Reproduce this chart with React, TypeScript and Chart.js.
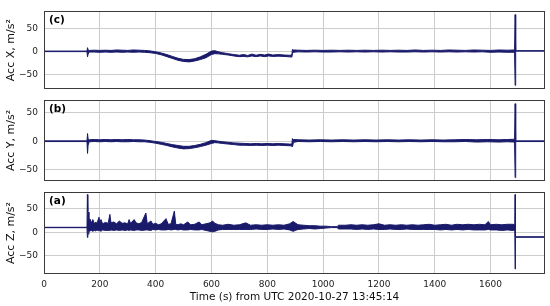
import React, { useEffect, useRef } from 'react';
import { Chart, registerables } from 'chart.js';

Chart.register(...registerables);

// ---- tick labels ----
const xTicks = [0, 200, 400, 600, 800, 1000, 1200, 1400, 1600];
const yTicks = [-50, 0, 50];
const xTitle = 'Time (s) from UTC 2020-10-27 13:45:14';

// ---- Acc X (panel c): time, upper and lower envelope of the trace ----
const tX = [0, 154, 156, 158, 162, 180, 200, 220, 240, 260, 280, 300, 320, 340, 360, 380, 400, 420, 440, 460, 480, 500, 520, 540, 560, 580, 600, 612, 625, 640, 660, 680, 700, 715, 730, 745, 760, 775, 790, 805, 820, 840, 860, 880, 888, 890, 894, 910, 940, 970, 1000, 1030, 1060, 1090, 1120, 1150, 1180, 1210, 1240, 1270, 1300, 1330, 1360, 1390, 1420, 1450, 1480, 1510, 1540, 1570, 1600, 1630, 1660, 1686, 1688, 1690, 1795];
const xHigh = [0.6, 0.6, 8, 3, 2, 2.5, 2, 2.5, 2, 3, 2.5, 2, 3, 2.5, 2, 1, -1, -3.5, -7, -11, -15, -17.5, -18, -16, -12, -6.5, 0.5, 1.5, -1, -3, -5, -7, -8.5, -7, -9, -6, -8.5, -6.5, -8, -6, -8, -7, -8, -8.5, -8, 4, 3, 2.5, 2, 2.5, 2, 2.5, 2, 2.5, 2, 2.5, 2, 2.5, 2, 2.5, 2, 3, 2, 2.5, 2, 3, 2.5, 2, 3, 2.5, 2, 3, 2.5, 3, 80, 1.5, 1.5];
const xLow = [-0.6, -0.6, -12, -6, -1.5, -1.5, -2, -1.5, -2, -1.5, -2, -1.5, -2, -1.5, -2, -3, -4.5, -7.5, -11.5, -15.5, -19.5, -22, -23, -21, -18, -14, -7, -5, -5.5, -6.5, -8, -10, -11.5, -11, -12, -10, -11.5, -10, -11.5, -10, -11, -10.5, -11, -12, -12.5, -5, -2, -1, -1.5, -1, -1.5, -1.5, -1, -1.5, -1, -1.5, -1, -1.5, -1, -1.5, -1.5, -1, -1.5, -1, -1.5, -1, -1.5, -1, -1.5, -1, -2, -1.5, -2, -2, -74, 0.5, 0.5];

// ---- Acc Y (panel b) ----
const tY = [0, 154, 156, 158, 162, 180, 200, 220, 240, 260, 280, 300, 320, 340, 360, 380, 400, 420, 440, 460, 480, 500, 520, 540, 560, 580, 600, 612, 625, 640, 660, 680, 700, 720, 740, 760, 780, 800, 820, 840, 860, 880, 888, 890, 894, 910, 950, 990, 1030, 1070, 1110, 1150, 1190, 1230, 1270, 1310, 1350, 1390, 1430, 1470, 1510, 1550, 1590, 1630, 1660, 1686, 1688, 1690, 1795];
const yHigh = [0.6, 0.6, 13.5, 4, 2.5, 3, 2.5, 3, 2.5, 3, 2.5, 3, 2.5, 2.5, 2, 1, -0.5, -2, -4, -6, -7.5, -9, -9, -7.5, -5.5, -2.5, 1.5, 1, 0, -1, -2, -3, -3.5, -4, -4.5, -4, -4.5, -4, -4.5, -4, -4.5, -5, -5, 4.5, 3, 2.5, 2, 2.5, 2, 2.5, 2, 2.5, 2, 2.5, 2, 2.5, 2, 2.5, 2, 2.5, 3, 2.5, 3, 2.5, 3, 3.5, 66, 0.6, 0.6];
const yLow = [-0.6, -0.6, -21.5, -7, -1, -0.5, -1, -0.5, -1, -0.5, -1, -1, -0.5, -1, -1, -2, -3.5, -5.5, -7.5, -10, -12, -13.5, -13, -11.5, -9.5, -7, -4, -2.5, -3, -4, -5, -6, -7, -7, -7.5, -7, -7.5, -7, -7.5, -7, -7.5, -8, -8.5, -10, -2, -0.5, -1, -0.5, -1, -0.5, -1, -0.5, -1, -0.5, -1, -0.5, -1, -0.5, -1, -1, -0.5, -1.5, -1, -1.5, -1, -1.5, -64, -0.6, -0.6];

// ---- Acc Z (panel a) ----
const tZ = [0, 154, 155.5, 157, 159, 161, 165, 170, 175, 180, 185, 190, 197, 200, 204, 210, 220, 230, 236, 240, 250, 260, 270, 280, 290, 300, 305, 310, 323, 330, 340, 350, 365, 370, 383, 390, 400, 410, 420, 437, 445, 455, 467, 472, 480, 490, 500, 515, 525, 540, 556, 565, 580, 595, 604, 612, 625, 640, 660, 680, 700, 723, 740, 760, 780, 800, 820, 840, 860, 880, 893, 900, 910, 930, 950, 970, 990, 1010, 1030, 1050, 1055, 1080, 1100, 1120, 1140, 1160, 1180, 1200, 1220, 1240, 1260, 1280, 1300, 1320, 1340, 1360, 1380, 1400, 1420, 1440, 1460, 1480, 1500, 1520, 1540, 1560, 1580, 1592, 1600, 1620, 1640, 1660, 1680, 1687, 1688, 1689, 1795];
const zHigh = [10.6, 10.6, 80, 44, 43, 22, 28, 20, 27, 18, 22, 19, 32, 20, 27, 18, 21, 19, 38, 20, 22, 18, 24, 19, 20, 18, 27, 19, 27, 20, 18, 21, 41, 18, 24, 17, 19, 16, 18, 29, 17, 18, 45, 17, 16, 18, 16, 22, 16, 17, 22, 16, 18, 20, 24, 19, 16, 15, 17, 15, 16, 20, 15, 16, 15, 16, 15, 16, 15, 18, 23, 20, 16, 15, 14, 14, 13, 13, 12, 12, 15, 15, 16, 15, 16, 15, 16, 18, 15, 16, 15, 16, 15, 16, 15, 16, 17, 15, 16, 17, 15, 17, 16, 17, 16, 17, 16, 23, 16, 17, 16, 17, 17, 16, 80, -9.5, -9.5];
const zLow = [9.8, 9.8, -11, -5, -4, 2, 3, 4, 2, 4, 3, 5, 3, 4, 2, 5, 4, 4, 4, 5, 4, 5, 4, 5, 4, 5, 4, 5, 4, 5, 5, 4, 5, 5, 4, 6, 5, 6, 5, 5, 6, 5, 6, 6, 5, 6, 5, 5, 6, 5, 5, 6, 4, 2, 1, 2, 5, 6, 6, 6, 6, 6, 6, 7, 6, 6, 7, 6, 7, 5, 2, 4, 6, 7, 8, 7, 8, 9, 10, 10, 7, 7, 7, 6, 7, 6, 7, 6, 6, 7, 6, 6, 7, 6, 6, 6, 6, 6, 5, 6, 5, 6, 5, 6, 5, 5, 5, 6, 5, 5, 4, 5, 4, 5, -78, -10.5, -10.5];

const LINE = '#1a1a6b';

type Panel = {
  label: string; title: string; t: number[]; hi: number[]; lo: number[];
  min: number; max: number; top: number; bottom: number; last: boolean;
};

const panels: Panel[] = [
  { label: '(c)', title: 'Acc X, m/s²', t: tX, hi: xHigh, lo: xLow, min: -82, max: 87, top: 8, bottom: 89, last: false },
  { label: '(b)', title: 'Acc Y, m/s²', t: tY, hi: yHigh, lo: yLow, min: -70, max: 72.5, top: 100, bottom: 181, last: false },
  { label: '(a)', title: 'Acc Z, m/s²', t: tZ, hi: zHigh, lo: zLow, min: -88.5, max: 85.5, top: 192, bottom: 274, last: true },
];

const W = 550;
const H = 306;

function PanelChart({ p }: { p: Panel }) {
  const ref = useRef<HTMLCanvasElement | null>(null);
  useEffect(() => {
    if (!ref.current) return;
    const framePlugin = {
      id: 'frame' + p.label,
      afterDatasetsDraw(chart: any) {
        const { ctx, chartArea: a } = chart;
        ctx.save();
        ctx.strokeStyle = '#3a3a3a';
        ctx.lineWidth = 1;
        ctx.strokeRect(Math.round(a.left) + 0.5, Math.round(a.top) + 0.5, Math.round(a.right - a.left) - 1, Math.round(a.bottom - a.top) - 1);
        ctx.fillStyle = '#000';
        ctx.font = 'bold 10.5px "DejaVu Sans"';
        ctx.textBaseline = 'middle';
        ctx.textAlign = 'left';
        ctx.fillText(p.label, a.left + 5, a.top + 9);
        ctx.restore();
      },
    };
    const hiData = p.t.map((x, i) => ({ x, y: p.hi[i] }));
    const loData = p.t.map((x, i) => ({ x, y: p.lo[i] }));
    const chart = new Chart(ref.current, {
      type: 'line',
      data: {
        datasets: [
          { data: hiData, borderColor: LINE, backgroundColor: LINE, borderWidth: 1, pointRadius: 0, tension: 0, fill: '+1' },
          { data: loData, borderColor: LINE, backgroundColor: LINE, borderWidth: 1, pointRadius: 0, tension: 0, fill: false },
        ],
      },
      options: {
        animation: false,
        responsive: false,
        events: [],
        layout: { padding: { top: p.top, bottom: p.last ? 0 : H - p.bottom, left: 0, right: 5 } },
        plugins: { legend: { display: false }, tooltip: { enabled: false } },
        scales: {
          x: {
            type: 'linear',
            min: 0,
            max: 1795,
            afterBuildTicks: (s: any) => { s.ticks = xTicks.map((v) => ({ value: v })); },
            afterFit: (s: any) => { s.height = p.last ? 32 : 0; },
            grid: { color: '#cccccc', lineWidth: 1, drawTicks: false },
            border: { display: false },
            ticks: {
              display: p.last,
              padding: 5,
              color: '#222',
              font: { family: 'DejaVu Sans', size: 9 },
              maxRotation: 0,
              autoSkip: false,
              callback: (v: any) => String(v),
            },
            title: {
              display: p.last,
              text: xTitle,
              color: '#111',
              font: { family: 'DejaVu Sans', size: 10.5 },
              padding: { top: 0, bottom: 2 },
            },
          },
          y: {
            type: 'linear',
            min: p.min,
            max: p.max,
            afterBuildTicks: (s: any) => { s.ticks = yTicks.map((v) => ({ value: v })); },
            afterFit: (s: any) => { s.width = 44; },
            grid: { color: '#cccccc', lineWidth: 1, drawTicks: false },
            border: { display: false },
            ticks: {
              padding: 6,
              color: '#222',
              font: { family: 'DejaVu Sans', size: 9 },
              callback: (v: any) => (Number(v) < 0 ? '\u2212' + Math.abs(Number(v)) : String(v)),
            },
            title: {
              display: true,
              text: p.title,
              color: '#111',
              font: { family: 'DejaVu Sans', size: 11 },
              padding: { top: 5, bottom: 0 },
            },
          },
        },
      },
      plugins: [framePlugin],
    } as any);
    return () => chart.destroy();
  }, [p]);
  return (
    <canvas
      ref={ref}
      width={W}
      height={H}
      style={{ position: 'absolute', left: 0, top: 0, width: W, height: H }}
    />
  );
}

export default function App() {
  return (
    <div style={{ position: 'absolute', left: 0, top: 0, width: W, height: H, background: '#fff' }}>
      {panels.map((p) => (
        <PanelChart key={p.label} p={p} />
      ))}
    </div>
  );
}
